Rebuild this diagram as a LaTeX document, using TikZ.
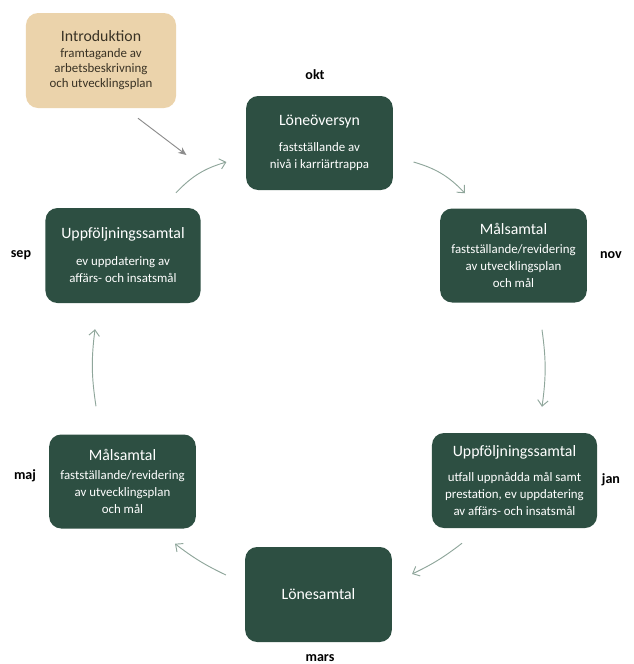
\documentclass[tikz,border=0pt]{standalone}
\usepackage{fontspec}
\setmainfont{Carlito}
\usetikzlibrary{calc}
\usetikzlibrary{arrows.meta}
\definecolor{boxgreen}{HTML}{2D4F42}
\definecolor{introtan}{HTML}{EBD3AB}
\definecolor{introtext}{HTML}{3A3325}
\definecolor{arrowgreen}{HTML}{8FA69B}
\definecolor{introarrow}{HTML}{8C8C8C}
\newcommand{\steptitle}[1]{{\fontsize{13.5}{16}\selectfont #1}}
\tikzset{
    stepbox/.style={fill=boxgreen, text=white, rounded corners=0.36cm, align=center,
        minimum width=4.4cm, minimum height=2.82cm, inner sep=2pt,
        font=\fontsize{11}{14.5}\selectfont},
    introbox/.style={stepbox, fill=introtan, text=introtext,
        minimum width=4.5cm, minimum height=2.85cm, font=\fontsize{11}{12.8}\selectfont},
    month/.style={font=\fontsize{12}{14}\selectfont\bfseries, text=black},
    cyclearrow/.style={draw=arrowgreen, line width=0.8pt, -{Straight Barb[length=5pt,width=9pt]}},
    introarr/.style={draw=introarrow, line width=0.8pt, -{Stealth[length=7pt,width=6pt]}},
}
\begin{document}
\begin{tikzpicture}[x=0.03cm,y=-0.03cm]
                \useasboundingbox (0,0) rectangle (633,664);
                \node[introbox] (intro) at (101,60.5) {\steptitle{Introduktion}\\[1pt] framtagande av\\ arbetsbeskrivning\\ och utvecklingsplan};
                \node[stepbox] (loner) at (319.5,143) {\steptitle{Löneöversyn}\\[7.5pt] fastställande av\\ nivå i karriärtrappa};
                \node[stepbox] (malnov) at (513.5,255.5) {\steptitle{Målsamtal}\\[1.5pt] fastställande/revidering\\ av utvecklingsplan\\ och mål};
                \node[stepbox, minimum width=4.95cm, minimum height=2.85cm] (uppfjan) at (514.5,480.5) {\steptitle{Uppföljningssamtal}\\[7.5pt] utfall uppnådda mål samt\\ prestation, ev uppdatering\\ av affärs- och insatsmål};
                \node[stepbox, minimum height=2.85cm] (lones) at (318.5,594.5) {\steptitle{Lönesamtal}};
                \node[stepbox] (malmaj) at (122.5,481.5) {\steptitle{Målsamtal}\\[1.5pt] fastställande/revidering\\ av utvecklingsplan\\ och mål};
                \node[stepbox, minimum width=4.65cm, minimum height=2.85cm] (uppfsep) at (123,255.5) {\steptitle{Uppföljningssamtal}\\[8.5pt] ev uppdatering av\\ affärs- och insatsmål};
                \node[month] (okt) at (315,75) {okt};
                \node[month] (nov) at (611,255) {nov};
                \node[month] (jan) at (611,480) {jan};
                \node[month] (mars) at (320,658) {mars};
                \node[month] (maj) at (25,476) {maj};
                \node[month] (sep) at (21,255) {sep};
                \draw[introarr] ($(intro.south)+(37,10)$) -- ($(loner.west)+(-59.5,12)$);
                \draw[cyclearrow] ($(uppfsep.north)+(53,-15)$) to[bend left=15] ($(loner.west)+(-19.5,19)$);
                \draw[cyclearrow] ($(loner.east)+(20.5,19)$) to[bend left=15] ($(malnov.north)+(-48.5,-15)$);
                \draw[cyclearrow] ($(malnov.south)+(28.5,27)$) to[bend left=8] ($(uppfjan.north)+(27.5,-26)$);
                \draw[cyclearrow] ($(uppfjan.south)+(-52.5,15)$) to[bend left=6] ($(lones.east)+(20,-20.5)$);
                \draw[cyclearrow] ($(lones.west)+(-19,-19.5)$) to[bend left=6] ($(malmaj.south)+(52.5,15)$);
                \draw[cyclearrow] ($(malmaj.north)+(-26.5,-28)$) to[bend left=8] ($(uppfsep.south)+(-28,26)$);
\end{tikzpicture}
\end{document}
